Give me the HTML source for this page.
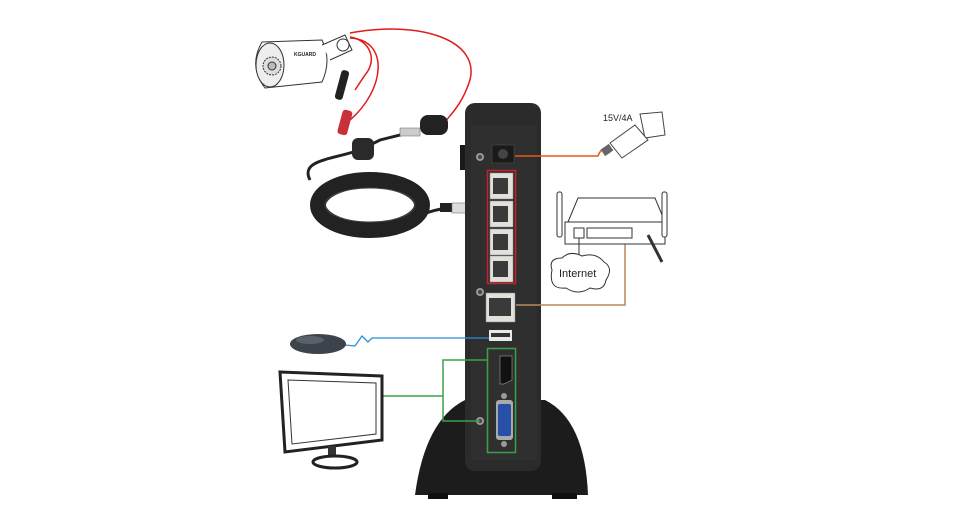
<!DOCTYPE html>
<html><head><style>body{margin:0;background:#fff}svg{display:block}</style></head><body>
<svg width="966" height="528" viewBox="0 0 966 528" xmlns="http://www.w3.org/2000/svg" font-family="Liberation Sans, sans-serif">
<!-- red cables -->
<path d="M350 33 C420 20 480 40 470 80 C462 105 450 115 445 122" stroke="#e01b1b" stroke-width="1.5" fill="none"/>
<path d="M350 37 C370 40 378 60 365 75 L355 90" stroke="#e01b1b" stroke-width="1.5" fill="none"/>
<path d="M350 38 C390 40 385 90 350 120" stroke="#e01b1b" stroke-width="1.5" fill="none"/>
<!-- camera -->
<g stroke="#333" fill="#fff" stroke-width="1">
<path d="M262 42 L322 40 Q332 60 322 82 L265 88 Q248 66 262 42 Z"/>
<ellipse cx="270" cy="65" rx="14" ry="22" fill="#eee"/>
<circle cx="272" cy="66" r="9" fill="#ddd" stroke-dasharray="2 1"/>
<circle cx="272" cy="66" r="4" fill="#bbb"/>
<path d="M322 45 L345 35 L352 50 L330 60"/>
<circle cx="343" cy="45" r="6"/>
</g>
<text x="294" y="56" font-size="5" font-weight="bold" fill="#222">KGUARD</text>
<rect x="338" y="70" width="8" height="30" rx="3" fill="#222" transform="rotate(15 342 85)"/>
<rect x="340" y="110" width="10" height="25" rx="3" fill="#c8303a" transform="rotate(15 345 122)"/>
<!-- black cable & coil -->
<path d="M420 130 L380 140 L360 150 C330 160 300 160 310 180" stroke="#222" stroke-width="3" fill="none"/>
<rect x="352" y="138" width="22" height="22" rx="6" fill="#2a2a2a"/>
<rect x="420" y="115" width="28" height="20" rx="8" fill="#222"/>
<rect x="400" y="128" width="20" height="8" fill="#ccc" stroke="#666" stroke-width=".5"/>
<ellipse cx="370" cy="205" rx="52" ry="25" fill="none" stroke="#222" stroke-width="16"/>
<ellipse cx="370" cy="205" rx="45" ry="17" fill="none" stroke="#444" stroke-width="1"/>
<path d="M385 228 C410 225 420 210 450 208" stroke="#222" stroke-width="3" fill="none"/>
<rect x="440" y="203" width="12" height="9" fill="#222"/>
<rect x="452" y="203" width="24" height="10" fill="#ddd" stroke="#777" stroke-width=".6"/>
<!-- stand -->
<path d="M415 495 Q425 420 465 400 L545 400 Q585 420 588 495 Z" fill="#1c1c1c"/>
<rect x="428" y="493" width="20" height="6" fill="#111"/>
<rect x="552" y="493" width="25" height="6" fill="#111"/>
<!-- device body -->
<rect x="460" y="145" width="8" height="25" fill="#1a1a1a"/>
<rect x="465" y="103" width="76" height="368" rx="10" fill="#2b2b2b"/>
<rect x="471" y="125" width="66" height="335" fill="#2f2f2f"/>
<!-- power port -->
<rect x="492" y="145" width="22" height="18" fill="#1a1a1a" stroke="#555" stroke-width=".5"/>
<circle cx="503" cy="154" r="5" fill="#444"/>
<circle cx="480" cy="157" r="4" fill="#999"/><circle cx="480" cy="157" r="2" fill="#444"/>
<!-- red box ports -->
<rect x="487.5" y="170.5" width="28" height="113" fill="none" stroke="#c8202a" stroke-width="1.5"/>
<g fill="#e2e0da" stroke="#888" stroke-width=".5">
<rect x="490" y="173" width="23" height="26"/><rect x="490" y="201" width="23" height="26"/>
<rect x="490" y="229" width="23" height="26"/><rect x="490" y="256" width="23" height="26"/>
<rect x="486" y="293" width="29" height="29"/>
</g>
<g fill="#3a3a3a">
<rect x="493" y="178" width="15" height="16"/><rect x="493" y="206" width="15" height="16"/>
<rect x="493" y="234" width="15" height="16"/><rect x="493" y="261" width="15" height="16"/>
<rect x="489" y="298" width="22" height="18"/>
</g>
<circle cx="480" cy="292" r="4" fill="#999"/><circle cx="480" cy="292" r="2" fill="#444"/>
<!-- usb -->
<rect x="489" y="330" width="23" height="11" fill="#e8e8e8"/><rect x="491" y="333" width="19" height="4" fill="#333"/>
<!-- green box -->
<rect x="487.5" y="348.5" width="28" height="104" fill="none" stroke="#3aa14a" stroke-width="1.5"/>
<path d="M500 356 L512 356 L512 380 L504 384 L500 384 Z" fill="#111" stroke="#888" stroke-width=".7"/>
<circle cx="504" cy="396" r="3" fill="#999"/><circle cx="504" cy="444" r="3" fill="#999"/>
<rect x="496" y="400" width="17" height="40" rx="3" fill="#aaa"/>
<rect x="498" y="404" width="13" height="32" rx="2" fill="#2850a8"/>
<circle cx="480" cy="421" r="4" fill="#999"/><circle cx="480" cy="421" r="2" fill="#444"/>
<!-- connectors -->
<path d="M515 156 L598 156 Q600 150 605 148" stroke="#e8561e" stroke-width="1.5" fill="none"/>
<path d="M516 305 L625 305 L625 240" stroke="#b58a5e" stroke-width="1.5" fill="none"/>
<path d="M489 338 L372 338 L368 342 L362 336 L355 346 L345 345" stroke="#2a8fd6" stroke-width="1.3" fill="none"/>
<path d="M487 360 L443 360 L443 421 L480 421 M443 396 L380 396" stroke="#3aa14a" stroke-width="1.5" fill="none"/>
<!-- plug -->
<text x="603" y="121" font-size="9" fill="#222">15V/4A</text>
<path d="M640 114 L662 112 L665 135 L645 138 Z" fill="#fff" stroke="#444"/>
<path d="M610 143 L635 125 L648 140 L622 158 Z" fill="#fff" stroke="#444"/>
<rect x="602" y="146" width="10" height="8" fill="#666" transform="rotate(-35 607 150)"/>
<!-- router -->
<g stroke="#333" fill="#fff" stroke-width="1">
<path d="M568 222 L578 198 L655 198 L665 222 Z"/>
<rect x="565" y="222" width="100" height="22"/>
<rect x="557" y="192" width="5" height="45" rx="2"/><rect x="662" y="192" width="5" height="45" rx="2"/>
<rect x="574" y="228" width="10" height="10"/>
<rect x="587" y="228" width="45" height="10"/>
<path d="M648 235 L662 262" stroke-width="3"/>
<path d="M579 238 L579 260" fill="none"/>
<path d="M552 270 Q548 258 562 258 Q570 250 582 256 Q596 252 604 262 Q614 268 606 280 Q604 292 590 288 Q578 296 566 288 Q548 290 552 270 Z"/>
</g>
<text x="559" y="277" font-size="11" fill="#222">Internet</text>
<!-- mouse -->
<ellipse cx="318" cy="344" rx="28" ry="10" fill="#3d434a"/>
<ellipse cx="310" cy="340" rx="14" ry="4" fill="#5a6068"/>
<!-- monitor -->
<path d="M280 372 L382 376 L382 440 L285 452 Z" fill="#fff" stroke="#222" stroke-width="3"/>
<path d="M288 380 L376 383 L376 434 L292 444 Z" fill="#fff" stroke="#333" stroke-width="1"/>
<rect x="328" y="446" width="8" height="12" fill="#333"/>
<ellipse cx="335" cy="462" rx="22" ry="6" fill="#fff" stroke="#222" stroke-width="3"/>
</svg>
</body></html>
